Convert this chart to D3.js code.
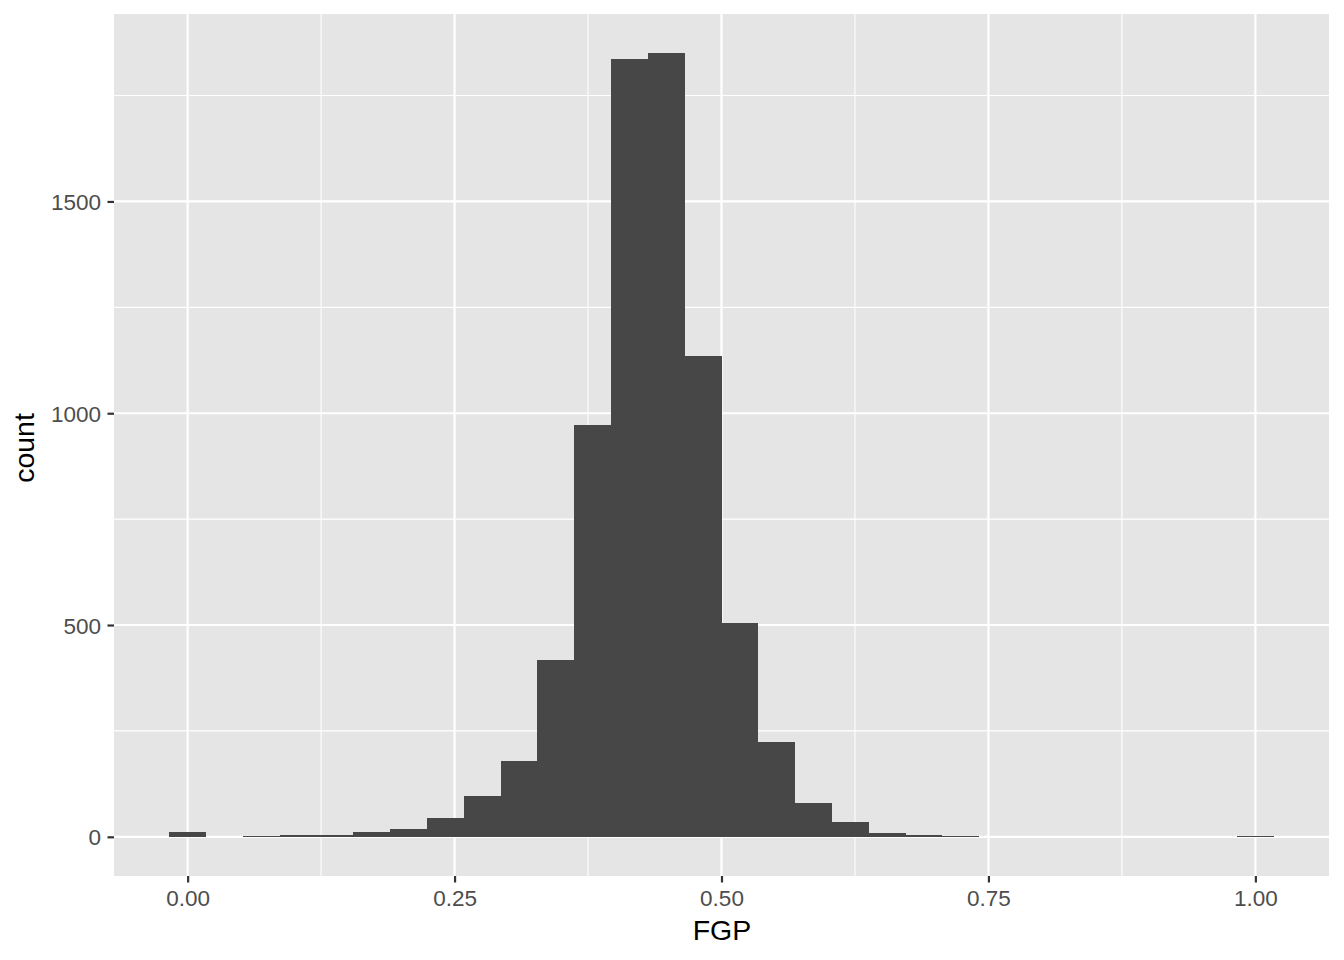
<!DOCTYPE html>
<html>
<head>
<meta charset="utf-8">
<script src="https://cdn.jsdelivr.net/npm/d3@7"></script>
<style>
html,body{margin:0;padding:0;background:#fff;}
svg{display:block;font-family:"Liberation Sans",Arial,Helvetica,sans-serif;}
</style>
</head>
<body>
<svg id="chart" width="1344" height="960"></svg>
<script>
// Histogram of FGP, 30 bins, binwidth 1/29, centred on 0 .. 1
const binWidth = 1 / 29;
const binCenters = d3.range(30).map(k => k * binWidth);
const counts = [12, 0, 2, 4, 4, 11, 19, 45, 97, 180, 418, 973, 1836, 1850, 1136, 505, 224, 80, 35, 9, 4, 2, 0, 0, 0, 0, 0, 0, 0, 2];
const xTicks = [0, 0.25, 0.5, 0.75, 1.0];
const xTickLabels = ["0.00", "0.25", "0.50", "0.75", "1.00"];
const xMinor = [0.125, 0.375, 0.625, 0.875];
const yTicks = [0, 500, 1000, 1500];
const yTickLabels = ["0", "500", "1000", "1500"];
const yMinor = [250, 750, 1250, 1750];
const xTitle = "FGP";
const yTitle = "count";

const svg = d3.select("#chart");
const panel = {left: 114, right: 1329, top: 14, bottom: 876};

const xLo = binCenters[0] - binWidth / 2, xHi = binCenters[binCenters.length - 1] + binWidth / 2;
const xPad = (xHi - xLo) * 0.05;
const x = d3.scaleLinear().domain([xLo - xPad, xHi + xPad]).range([panel.left, panel.right]);
const yMax = d3.max(counts);
const y = d3.scaleLinear().domain([-0.05 * yMax, 1.05 * yMax]).range([panel.bottom, panel.top]);

svg.append("rect").attr("x", panel.left).attr("y", panel.top)
  .attr("width", panel.right - panel.left).attr("height", panel.bottom - panel.top)
  .attr("fill", "#E5E5E5");

const grid = svg.append("g");
grid.selectAll(".ymin").data(yMinor).join("line")
  .attr("x1", panel.left).attr("x2", panel.right)
  .attr("y1", d => y(d)).attr("y2", d => y(d))
  .attr("stroke", "#fff").attr("stroke-width", 1.1);
grid.selectAll(".xmin").data(xMinor).join("line")
  .attr("y1", panel.top).attr("y2", panel.bottom)
  .attr("x1", d => x(d)).attr("x2", d => x(d))
  .attr("stroke", "#fff").attr("stroke-width", 1.1);
grid.selectAll(".ymaj").data(yTicks).join("line")
  .attr("x1", panel.left).attr("x2", panel.right)
  .attr("y1", d => y(d)).attr("y2", d => y(d))
  .attr("stroke", "#fff").attr("stroke-width", 2.2);
grid.selectAll(".xmaj").data(xTicks).join("line")
  .attr("y1", panel.top).attr("y2", panel.bottom)
  .attr("x1", d => x(d)).attr("x2", d => x(d))
  .attr("stroke", "#fff").attr("stroke-width", 2.2);

svg.append("g").attr("shape-rendering", "crispEdges")
  .selectAll("rect").data(counts.map((c, i) => ({c, m: binCenters[i]}))).join("rect")
  .attr("x", d => x(d.m - binWidth / 2))
  .attr("width", d => x(d.m + binWidth / 2) - x(d.m - binWidth / 2))
  .attr("y", d => y(d.c))
  .attr("height", d => y(0) - y(d.c))
  .attr("fill", "#474747");

// axes
const xAxis = d3.axisBottom(x).tickValues(xTicks).tickFormat((d, i) => xTickLabels[i]).tickSize(6.5).tickPadding(7.5);
const gx = svg.append("g").attr("transform", `translate(0,${panel.bottom})`).call(xAxis);
gx.select(".domain").remove();
gx.selectAll(".tick line").attr("stroke", "#333").attr("stroke-width", 2.2);
gx.selectAll(".tick text").attr("fill", "#4D4D4D").attr("font-size", 22.5);

const yAxis = d3.axisLeft(y).tickValues(yTicks).tickFormat((d, i) => yTickLabels[i]).tickSize(6.5).tickPadding(6.5);
const gy = svg.append("g").attr("transform", `translate(${panel.left},0)`).call(yAxis);
gy.select(".domain").remove();
gy.selectAll(".tick line").attr("stroke", "#333").attr("stroke-width", 2.2);
gy.selectAll(".tick text").attr("fill", "#4D4D4D").attr("font-size", 22.5).attr("dy", "0.36em");

svg.append("text").attr("x", 722).attr("y", 940)
  .attr("text-anchor", "middle").attr("font-size", 28.5).attr("fill", "#000").text(xTitle);
svg.append("text").attr("transform", `translate(34,448) rotate(-90)`)
  .attr("text-anchor", "middle").attr("font-size", 28.5).attr("fill", "#000").text(yTitle);
</script>
</body>
</html>
